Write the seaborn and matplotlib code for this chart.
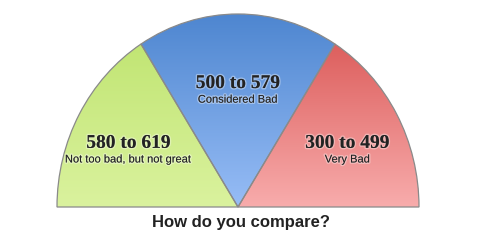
import numpy as np
import matplotlib
matplotlib.use("Agg")
import matplotlib.pyplot as plt
import matplotlib.patheffects as pe
from matplotlib.colors import LinearSegmentedColormap
import seaborn as sns

# ---- data ----
ranges = ["580 to 619", "500 to 579", "300 to 499"]
descriptions = ["Not too bad, but not great", "Considered Bad", "Very Bad"]
shares = [16, 18, 16]          # percent of the full circle
hidden_share = 50              # invisible lower half
top_colors = ["#bde36c", "#4e86d0", "#d8514f"]
bottom_colors = ["#daf29e", "#97bdf6", "#f8acac"]
title = "How do you compare?"

sns.set_theme(style="white")
plt.rcParams["font.family"] = ["DejaVu Sans"]

W, H = 481, 249
fig = plt.figure(figsize=(W / 100, H / 100), dpi=100)
ax = fig.add_axes([0, 0, 1, 1])

# pixel geometry of the half-pie
cx, cy = 238.0, 207.0
rx, ry = 181.0, 193.0

wedges, _ = ax.pie(shares + [hidden_share], startangle=180, counterclock=False,
                   radius=1.0, center=(0, 0),
                   wedgeprops=dict(linewidth=0.9, edgecolor="#8a8a8a"))
ax.set_aspect("auto")
wedges[-1].set_visible(False)

grad = np.linspace(0, 1, 256).reshape(-1, 1)
for w, top, bot in zip(wedges[:3], top_colors, bottom_colors):
    w.set_facecolor("none")
    cmap = LinearSegmentedColormap.from_list("g", [top, bot])
    im = ax.imshow(grad, cmap=cmap, aspect="auto",
                   extent=(-1.05, 1.05, 0.0, 1.0), origin="upper",
                   zorder=w.get_zorder() - 0.1, interpolation="bilinear")
    im.set_clip_path(w)
    w.set_zorder(w.get_zorder() + 1)
ax.set_xlim((0 - cx) / rx, (W - cx) / rx)
ax.set_ylim((cy - H) / ry, cy / ry)
ax.axis("off")

glow = [pe.withStroke(linewidth=2.0, foreground=(1, 1, 1, 0.35))]
label_rx, label_ry = 0.69, 0.598
for w, rng, desc in zip(wedges[:3], ranges, descriptions):
    mid = np.deg2rad((w.theta1 + w.theta2) / 2)
    x, y = label_rx * np.cos(mid), label_ry * np.sin(mid)
    ax.annotate(rng, (x, y), xytext=(0, 5.8), textcoords="offset points",
                ha="center", va="center", fontsize=14, fontweight="bold",
                family="Liberation Serif", color="#222222", path_effects=glow, zorder=5)
    ax.annotate(desc, (x, y), xytext=(0, -5.8), textcoords="offset points",
                ha="center", va="center", fontsize=8,
                family="Liberation Sans", color="#222222", path_effects=glow, zorder=5)

fig.text(241 / W, 1 - 222 / H, title, ha="center", va="center",
         fontsize=12, fontweight="bold", family="Liberation Sans", color="#222222")

fig.savefig("out.png", dpi=100, facecolor="white")
